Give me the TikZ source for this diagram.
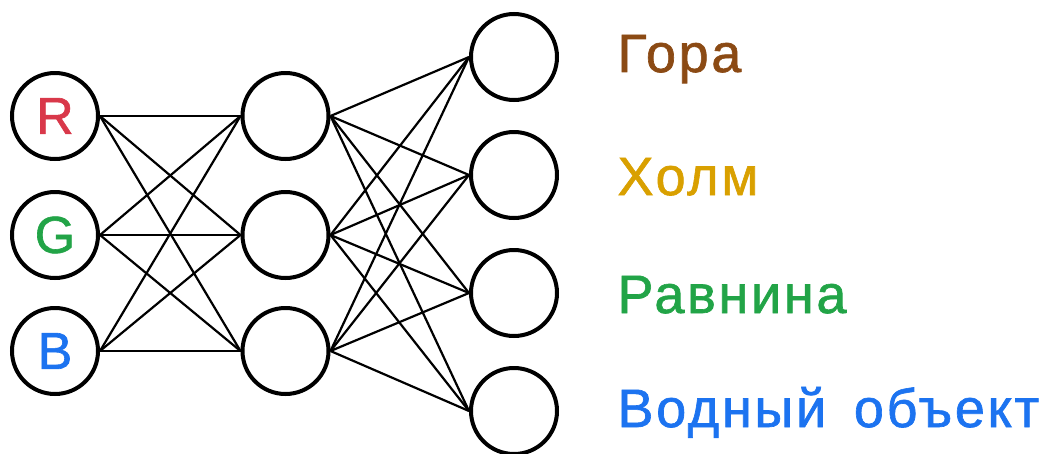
\documentclass[tikz,border=0pt]{standalone}
\usepackage{fontspec}
\setmainfont{Liberation Sans}
\newfontfamily\lblfont[LetterSpace=5,FakeBold=1.2]{Liberation Sans}
\newfontfamily\inpfont[FakeBold=1.2]{Liberation Sans}
\definecolor{cR}{HTML}{D9384A}
\definecolor{cG}{HTML}{22A447}
\definecolor{cB}{HTML}{1C73F0}
\definecolor{cMount}{HTML}{8B4A14}
\definecolor{cHill}{HTML}{D9A000}
\definecolor{cPlain}{HTML}{22A447}
\definecolor{cWater}{HTML}{1C73F0}
\begin{document}
\begin{tikzpicture}[x=1pt,y=-1pt,
  neuron/.style={circle,draw=black,line width=4pt,minimum size=86pt,inner sep=0pt,fill=white},
  conn/.style={line width=2.2pt,black},
  inlbl/.style={font=\inpfont\fontsize{52}{52}\selectfont},
  outlbl/.style={anchor=base west,font=\lblfont\fontsize{54}{54}\selectfont}]
\useasboundingbox (0,0) rectangle (1050,453);
% input
\node[neuron,text=cR,inlbl] (i1) at (55,116) {R};
\node[neuron,text=cG,inlbl] (i2) at (55,235) {G};
\node[neuron,text=cB,inlbl] (i3) at (55,351) {B};
% hidden
\node[neuron] (h1) at (285.5,116) {};
\node[neuron] (h2) at (285.5,235) {};
\node[neuron] (h3) at (285.5,351) {};
% output
\node[neuron] (o1) at (514,57) {};
\node[neuron] (o2) at (514,175) {};
\node[neuron] (o3) at (514,293) {};
\node[neuron] (o4) at (514,411) {};
\foreach \a in {1,2,3}{
  \foreach \b in {1,2,3}{\draw[conn] (i\a.east) -- (h\b.west);}
  \foreach \b in {1,2,3,4}{\draw[conn] (h\a.east) -- (o\b.west);}
}
% labels
\node[outlbl,text=cMount] (l1) at (614,72) {Гора};
\node[outlbl,text=cHill] (l2) at (614,195) {Холм};
\node[outlbl,text=cPlain] (l3) at (614,313) {Равнина};
\node[outlbl,text=cWater] (l4) at (614,427) {Водный\hspace{10pt} объект};
\end{tikzpicture}
\end{document}
